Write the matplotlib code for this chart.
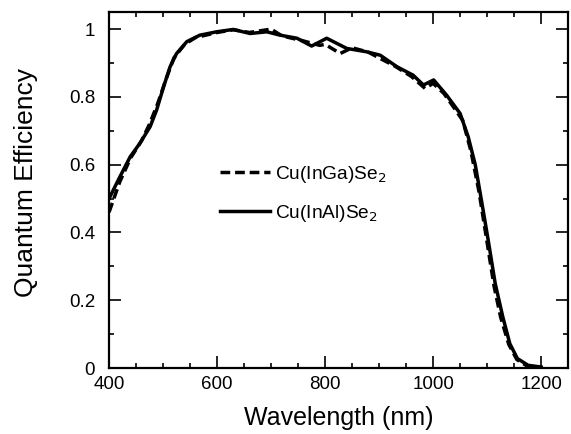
import matplotlib
matplotlib.use("Agg")
import matplotlib.pyplot as plt
from matplotlib.ticker import MultipleLocator

plt.rcParams['font.family'] = ['Liberation Sans', 'DejaVu Sans']
plt.rcParams['lines.scale_dashes'] = False

# Cu(InAl)Se2 - solid
wl_al = [400, 420, 439, 457, 476, 488, 501, 513, 525, 544, 568, 599, 630, 661,
         692, 717, 748, 775, 803, 840, 877, 902, 933, 963, 982, 1001, 1025,
         1050, 1065, 1078, 1090, 1102, 1115, 1129, 1142, 1156, 1176, 1200]
qe_al = [0.50, 0.564, 0.623, 0.663, 0.712, 0.761, 0.830, 0.889, 0.928, 0.963,
         0.982, 0.992, 0.999, 0.987, 0.992, 0.982, 0.973, 0.950, 0.973, 0.943,
         0.933, 0.923, 0.889, 0.864, 0.835, 0.850, 0.805, 0.751, 0.682, 0.60,
         0.49, 0.377, 0.249, 0.151, 0.072, 0.028, 0.008, 0.003]

# Cu(InGa)Se2 - dashed
wl_ga = [400, 420, 440, 460, 475, 490, 505, 520, 540, 560, 600, 630, 660, 680,
         700, 720, 760, 790, 800, 828, 850, 880, 900, 930, 960, 985, 1000, 1020,
         1040, 1055, 1070, 1085, 1100, 1113, 1125, 1140, 1155, 1175, 1195]
qe_ga = [0.46, 0.55, 0.62, 0.67, 0.72, 0.78, 0.85, 0.915, 0.955, 0.975, 0.99,
         0.998, 0.99, 0.995, 1.0, 0.98, 0.965, 0.952, 0.955, 0.928, 0.945,
         0.932, 0.915, 0.89, 0.86, 0.825, 0.84, 0.81, 0.765, 0.73, 0.64, 0.52,
         0.37, 0.24, 0.15, 0.07, 0.025, 0.005, 0.0]

fig = plt.figure(figsize=(5.71, 4.34), dpi=100)
ax = fig.add_axes([0.191, 0.152, 0.804, 0.82])

ax.plot(wl_ga, qe_ga, color='black', lw=2.5, dashes=(7, 3.5),
        label='Cu(InGa)Se$_2$')
ax.plot(wl_al, qe_al, color='black', lw=2.5, label='Cu(InAl)Se$_2$')

ax.set_xlim(400, 1250)
ax.set_ylim(0, 1.05)
ax.xaxis.set_major_locator(MultipleLocator(200))
ax.xaxis.set_minor_locator(MultipleLocator(50))
ax.yaxis.set_minor_locator(MultipleLocator(0.1))
ax.set_yticks([0, 0.2, 0.4, 0.6, 0.8, 1.0])
ax.set_yticklabels(['0', '0.2', '0.4', '0.6', '0.8', '1'])

ax.tick_params(which='both', direction='in', top=True, right=True,
               labelsize=13.5, width=1.2)
ax.tick_params(which='major', length=8.5)
ax.tick_params(axis='x', which='major', pad=6)
ax.tick_params(axis='y', which='major', pad=10)
ax.tick_params(which='minor', length=3.5)
for s in ax.spines.values():
    s.set_linewidth(1.6)

ax.set_xlabel('Wavelength (nm)', fontsize=18)
ax.set_ylabel('Quantum Efficiency', fontsize=19)
ax.yaxis.set_label_coords(-0.155, 0.52)
ax.xaxis.set_label_coords(0.5, -0.108)

ax.legend(loc='center left', bbox_to_anchor=(0.205, 0.49), frameon=False,
          fontsize=13.75, handlelength=2.6, handletextpad=0.26,
          labelspacing=0.95)

fig.savefig('out.png', dpi=100)
